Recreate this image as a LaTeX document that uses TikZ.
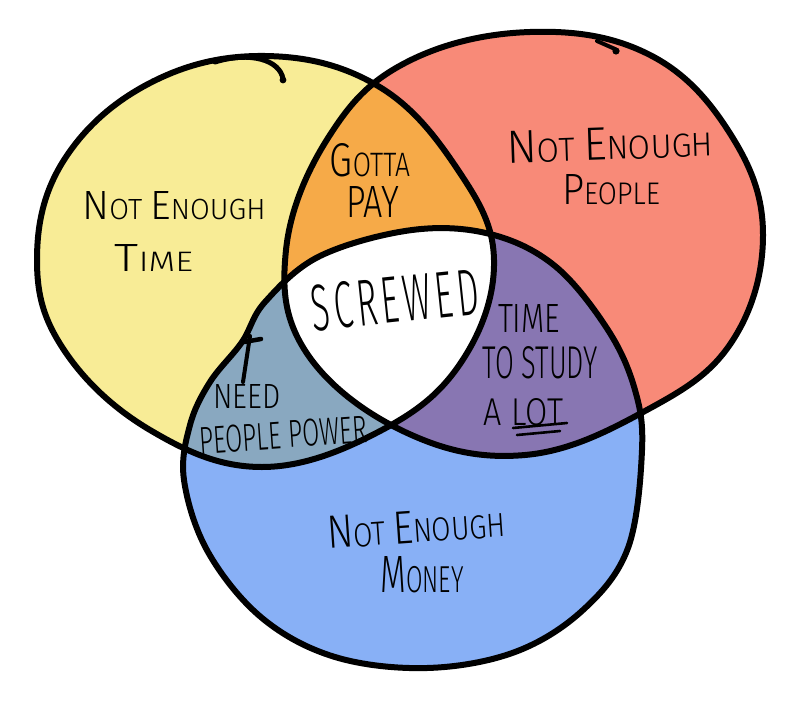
\documentclass[tikz,border=0pt]{standalone}
\usepackage{fontspec}
\setmainfont{Fira Sans Light}
\definecolor{cY}{HTML}{F8EC96}
\definecolor{cR}{HTML}{F88A78}
\definecolor{cB}{HTML}{88B0F6}
\definecolor{cO}{HTML}{F6AA48}
\definecolor{cP}{HTML}{8876B2}
\definecolor{cG}{HTML}{89A8C0}
\def\Ypath{plot[smooth cycle,tension=0.66] coordinates {(494,260) (462,361) (382,430) (262,467) (150,430) (64,350) (37,260) (64,160) (150,83) (265,56) (378,86) (458,170)}}
\def\Rpath{plot[smooth cycle,tension=0.66] coordinates {(763,235) (731,343) (645,411) (525,455) (405,432) (306,352) (286,250) (328,138) (405,63) (530,32) (650,55) (731,135)}}
\def\Bpath{plot[smooth cycle,tension=0.6] coordinates {(642,450) (628,548) (583,610) (515,652) (427,668) (335,657) (262,618) (208,552) (184,480) (190,425) (210,382) (242,342) (265,302) (320,256) (412,230) (490,234) (555,266) (608,330) (635,390)}}
\newcommand\I[1]{{\fontsize{14}{14}\selectfont #1}}
\newcommand\lbl[3]{\resizebox{#1pt}{#2pt}{\fontsize{10}{12}\selectfont #3}}
\begin{document}
\begin{tikzpicture}[x=1pt,y=-1pt,
  outline/.style={line width=6pt,line join=round,line cap=round},
  pen/.style={line width=2.6pt,line cap=round},
  lab/.style={inner sep=0pt,outer sep=0pt}]
\useasboundingbox (0,0) rectangle (800,701);
\fill[white] (0,0) rectangle (800,701);
% base fills
\fill[cY] \Ypath;
\fill[cR] \Rpath;
\fill[cB] \Bpath;
% intersections
\begin{scope}\clip \Ypath; \fill[cO] \Rpath; \end{scope}
\begin{scope}\clip \Ypath; \fill[cG] \Bpath; \end{scope}
\begin{scope}\clip \Rpath; \fill[cP] \Bpath; \end{scope}
\begin{scope}\clip \Ypath; \clip \Rpath; \fill[white] \Bpath; \end{scope}
% outlines
\draw[outline] \Ypath;
\draw[outline] \Rpath;
\draw[outline] \Bpath;
% pen strokes where the outlines start and end
\draw[line width=5pt,line cap=round] (215,62) .. controls (250,51) and (280,60) .. (283,79);
\fill (283,80) circle (3.4);
\draw[line width=4pt,line cap=round] (597,41) -- (615,49);
\fill (616,51) circle (3.6);
\draw[line width=4.5pt,line cap=round] (244,342) -- (261,339);
\draw[line width=4pt,line cap=round] (250,336) -- (243,382);
% labels
\node[lab] (y1) at (174,206) {\lbl{183}{28}{\I{N}OT \I{E}NOUGH}};
\node[lab] (y2) at (154,258) {\lbl{78}{27}{\I{T}IME}};
\node[lab,rotate=2] (r1) at (610,144) {\lbl{206}{32}{\I{N}OT \I{E}NOUGH}};
\node[lab] (r2) at (611,190) {\lbl{98}{30}{\I{P}EOPLE}};
\node[lab] (o1) at (370,160) {\lbl{80}{33}{\I{G}OTTA}};
\node[lab] (o2) at (373,202) {\lbl{53}{31}{PAY}};
\node[lab,rotate=6] (s1) at (395,300) {\lbl{168}{46}{S\kern1.2pt C\kern1.2pt R\kern1.2pt E\kern1.2pt W\kern1.2pt E\kern1.2pt D}};
\node[lab] (p1) at (529,318) {\lbl{62}{28}{TIME}};
\node[lab] (p2) at (540,363) {\lbl{115}{32}{TO STUDY}};
\node[lab] (p3) at (523,412) {\lbl{80}{27}{A\,\,LOT}};
\draw[pen] (513,428) -- (567,423);
\draw[pen] (517,435) -- (560,431);
\node[lab] (g1) at (247,396) {\lbl{67}{24}{NEED}};
\node[lab,rotate=4] (g2) at (283,435) {\lbl{168}{27}{PEOPLE POWER}};
\node[lab,rotate=4] (b1) at (416,527) {\lbl{178}{32}{\I{N}OT \I{E}NOUGH}};
\node[lab] (b2) at (422,575) {\lbl{83}{36}{\I{M}ONEY}};
\end{tikzpicture}
\end{document}
